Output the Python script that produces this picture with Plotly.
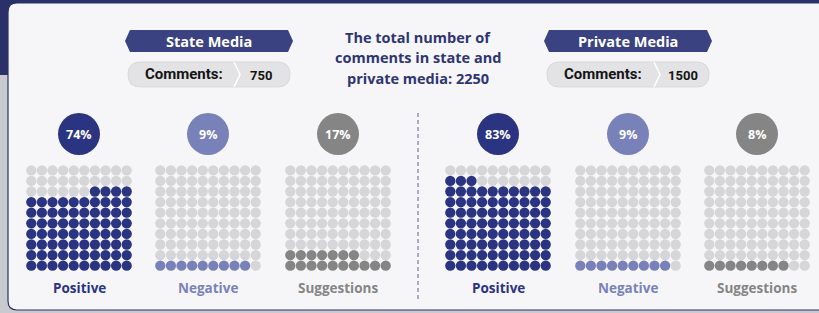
import plotly.graph_objects as go

# ---------------- data ----------------
categories = ["Positive", "Negative", "Suggestions"]
media_groups = ["State Media", "Private Media"]
state_pct = [74, 9, 17]
private_pct = [83, 9, 8]
comment_counts = [750, 1500]
total_comments = 2250
# which side the partial (top-most) row of each waffle starts from
state_partial_side = ["right", "left", "left"]
private_partial_side = ["left", "left", "left"]

# ---------------- style ----------------
W, H = 819, 313
NAVY = "#2a3168"
CAT_COLORS = ["#2b3481", "#7982b8", "#858585"]
EMPTY = "#d6d6d8"
FONT = "Open Sans"

grid_lefts = [[26, 155, 285], [445, 575, 704]]
GRID_W = 106
GRID_TOP, GRID_BOT = 165, 271
CIRCLE_Y, CIRCLE_R = 134, 21
LABEL_Y = 288

fig = go.Figure()
shapes = []
ann = []

# pixel overlay axis
fig.update_layout(
    xaxis=dict(range=[0, W], domain=[0, 1], visible=False, fixedrange=True),
    yaxis=dict(range=[H, 0], domain=[0, 1], visible=False, fixedrange=True),
)
fig.add_trace(go.Scatter(x=[0], y=[0], mode="markers", marker=dict(opacity=0), showlegend=False,
                         hoverinfo="skip"))

# background frame
shapes.append(dict(type="rect", xref="x", yref="y", x0=0, x1=12, y0=75, y1=H,
                   fillcolor="#c9cacd", line=dict(width=0), layer="below"))
shapes.append(dict(type="rect", xref="x", yref="y", x0=0, x1=W, y0=309, y1=H,
                   fillcolor="#c9cacd", line=dict(width=0), layer="below"))
r = 9
x0p, x1p, y0p, y1p = 8, W + 20, 3, 310
panel_path = (f"M{x0p + r},{y0p} L{x1p},{y0p} L{x1p},{y1p} L{x0p + r},{y1p} "
              f"Q{x0p},{y1p} {x0p},{y1p - r} L{x0p},{y0p + r} Q{x0p},{y0p} {x0p + r},{y0p} Z")
shapes.append(dict(type="path", xref="x", yref="y", path=panel_path,
                   fillcolor="#f6f6f8", line=dict(color=NAVY, width=1.2), layer="below"))

# headers
banner_x = [(125, 293), (544, 712)]
pill_x = [(128, 290), (547, 709)]
sep_x = [237, 657]
comments_label_x = [184, 603]
count_x = [261, 683]
for g, name in enumerate(media_groups):
    bx0, bx1 = banner_x[g]
    path = (f"M{bx0},41 L{bx0 + 5},30 L{bx1 - 5},30 L{bx1},41 L{bx1 - 5},52 L{bx0 + 5},52 Z")
    shapes.append(dict(type="path", xref="x", yref="y", path=path,
                       fillcolor="#3a4282", line=dict(width=0)))
    ann.append(dict(x=(bx0 + bx1) / 2, y=41, xref="x", yref="y", text=f"<b>{name}</b>",
                    showarrow=False, font=dict(family=FONT, size=14.5, color="white")))
    px0, px1 = pill_x[g]
    pr = 12.5
    py0, py1 = 62, 87
    pill = (f"M{px0 + pr},{py0} L{px1 - pr},{py0} Q{px1},{py0} {px1},{py0 + pr} "
            f"Q{px1},{py1} {px1 - pr},{py1} L{px0 + pr},{py1} Q{px0},{py1} {px0},{py1 - pr} "
            f"Q{px0},{py0} {px0 + pr},{py0} Z")
    shapes.append(dict(type="path", xref="x", yref="y", path=pill,
                       fillcolor="#e3e3e5", line=dict(color="#d9d9db", width=1)))
    s = sep_x[g]
    shapes.append(dict(type="path", xref="x", yref="y",
                       path=f"M{s - 3},{py0} L{s + 3},{(py0 + py1) / 2} L{s - 3},{py1}",
                       line=dict(color="white", width=1.5)))
    ann.append(dict(x=comments_label_x[g], y=74, xref="x", yref="y", text="<b>Comments:</b>",
                    showarrow=False, font=dict(family="Roboto", size=15, color="#141414")))
    ann.append(dict(x=count_x[g], y=75, xref="x", yref="y", text=f"<b>{comment_counts[g]}</b>",
                    showarrow=False, font=dict(family="Roboto", size=13, color="#141414")))

# center text
center_lines = ["The total number of", "comments in state and",
                f"private media: {total_comments}"]
for i, (line, yy) in enumerate(zip(center_lines, [37, 57.5, 78])):
    ann.append(dict(x=418, y=yy, xref="x", yref="y", text=f"<b>{line}</b>", showarrow=False,
                    font=dict(family=FONT, size=14.5, color="#2e3571")))

# divider
shapes.append(dict(type="line", xref="x", yref="y", x0=418, x1=418, y0=113, y1=302,
                   line=dict(color="#5a608e", width=1, dash="4px,3px")))

# waffles
ax_i = 2
all_pcts = [state_pct, private_pct]
all_sides = [state_partial_side, private_partial_side]
for g in range(2):
    for c, cat in enumerate(categories):
        pct = all_pcts[g][c]
        side = all_sides[g][c]
        full_rows, rem = divmod(pct, 10)
        xs_f, ys_f, xs_e, ys_e = [], [], [], []
        for row in range(10):
            for col in range(10):
                if row < full_rows:
                    filled = True
                elif row == full_rows and rem > 0:
                    filled = col < rem if side == "left" else col >= 10 - rem
                else:
                    filled = False
                if filled:
                    xs_f.append(col); ys_f.append(row)
                else:
                    xs_e.append(col); ys_e.append(row)
        gl = grid_lefts[g][c]
        xa, ya = f"x{ax_i}", f"y{ax_i}"
        fig.add_trace(go.Scatter(x=xs_e, y=ys_e, mode="markers", xaxis=xa, yaxis=ya,
                                 marker=dict(size=10.3, color=EMPTY, line=dict(width=0)),
                                 showlegend=False, hoverinfo="skip"))
        fig.add_trace(go.Scatter(x=xs_f, y=ys_f, mode="markers", xaxis=xa, yaxis=ya,
                                 marker=dict(size=10.3, color=CAT_COLORS[c], line=dict(width=0)),
                                 showlegend=False, hoverinfo="skip"))
        fig.layout[f"xaxis{ax_i}"] = dict(domain=[gl / W, (gl + GRID_W) / W], range=[-0.5, 9.5],
                                          visible=False, fixedrange=True, anchor=ya)
        fig.layout[f"yaxis{ax_i}"] = dict(domain=[1 - GRID_BOT / H, 1 - GRID_TOP / H],
                                          range=[-0.5, 9.5], visible=False, fixedrange=True,
                                          anchor=xa)
        cx = gl + GRID_W / 2
        shapes.append(dict(type="circle", xref="x", yref="y", x0=cx - CIRCLE_R, x1=cx + CIRCLE_R,
                           y0=CIRCLE_Y - CIRCLE_R, y1=CIRCLE_Y + CIRCLE_R,
                           fillcolor=CAT_COLORS[c], line=dict(width=0)))
        ann.append(dict(x=cx, y=CIRCLE_Y, xref="x", yref="y", text=f"<b>{pct}%</b>",
                        showarrow=False, font=dict(family=FONT, size=12.5, color="white")))
        ann.append(dict(x=cx, y=LABEL_Y, xref="x", yref="y", text=f"<b>{cat}</b>",
                        showarrow=False, font=dict(family=FONT, size=13.5, color=CAT_COLORS[c])))
        ax_i += 1

fig.update_layout(width=W, height=H, margin=dict(l=0, r=0, t=0, b=0),
                  paper_bgcolor=NAVY, plot_bgcolor="rgba(0,0,0,0)",
                  shapes=shapes, annotations=ann, showlegend=False)
fig.write_html("out.html", config={"displayModeBar": False},
               post_script="document.body.style.margin='0';document.body.style.overflow='hidden';")
